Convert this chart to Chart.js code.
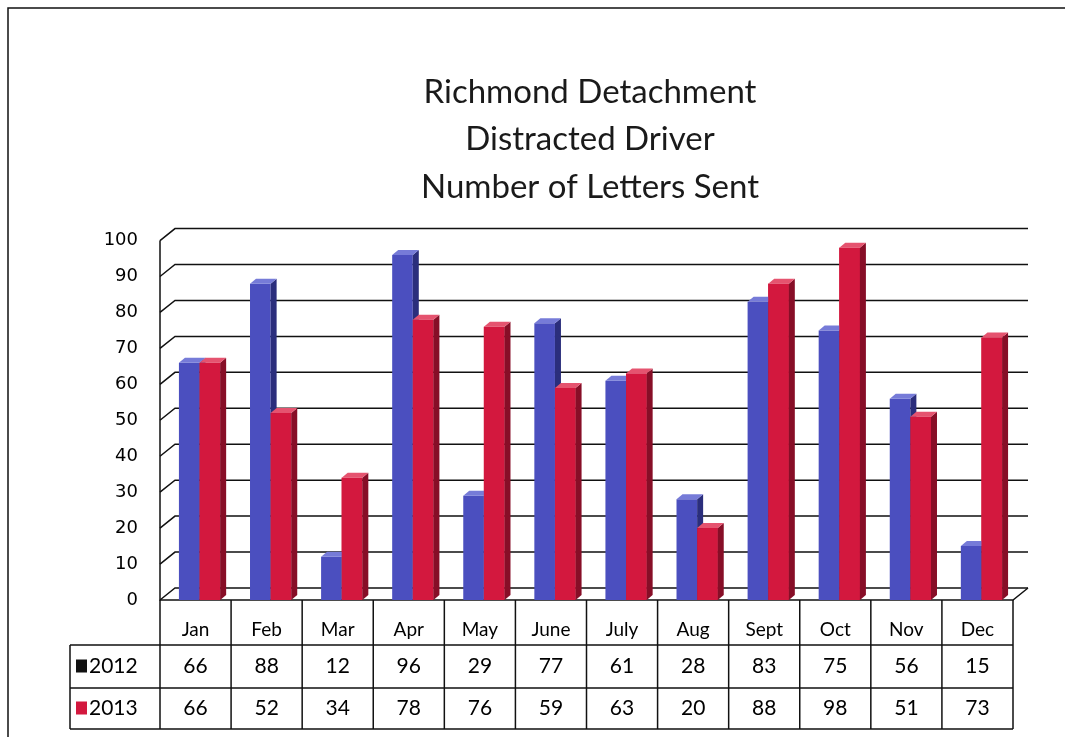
<!DOCTYPE html>
<html>
<head>
<meta charset="utf-8">
<script src="https://cdn.jsdelivr.net/npm/chart.js@4"></script>
<style>
  body { margin: 0; background: #fff; }
</style>
</head>
<body>
<canvas id="myChart" width="1065" height="737"></canvas>
<script>
const months = ['Jan', 'Feb', 'Mar', 'Apr', 'May', 'June', 'July', 'Aug', 'Sept', 'Oct', 'Nov', 'Dec'];
const letters2012 = [66, 88, 12, 96, 29, 77, 61, 28, 83, 75, 56, 15];
const letters2013 = [66, 52, 34, 78, 76, 59, 63, 20, 88, 98, 51, 73];
const seriesNames = ['2012', '2013'];
const titleLines = ['Richmond Detachment', 'Distracted Driver', 'Number of Letters Sent'];

// back wall offset for the fake 3d look
const DX = 15, DY = -12;
const BAR_D = 6, BAR_DV = 5;
const BAR_SHIFT = 4; // bars sit a little behind the front edge

const faces = [
    { front: '#4b4fbf', side: '#2b2e7c', top: '#767bd8' },
    { front: '#d3183e', side: '#870e27', top: '#e5536f' }
];

const fake3d = {
    id: 'fake3d',
    beforeDatasetsDraw(chart) {
        const { ctx, chartArea: a, scales: { y } } = chart;
        ctx.save();
        ctx.strokeStyle = '#111';
        ctx.lineWidth = 1.5;
        for (let v = 0; v <= 100; v += 10) {
            const py = y.getPixelForValue(v);
            ctx.beginPath();
            ctx.moveTo(a.left, py);
            ctx.lineTo(a.left + DX, py + DY);
            ctx.lineTo(a.right + DX, py + DY);
            ctx.stroke();
        }
        // front axis + floor edge
        ctx.beginPath();
        ctx.moveTo(a.left, a.top);
        ctx.lineTo(a.left, a.bottom);
        ctx.lineTo(a.right, a.bottom);
        ctx.lineTo(a.right + DX, a.bottom + DY);
        ctx.stroke();
        ctx.restore();
        // nudge the bars right before chart.js paints them
        ctx.save();
        ctx.translate(BAR_SHIFT, 0);
    },
    afterDatasetsDraw(chart) {
        const { ctx } = chart;
        [0, 1].forEach(di => {
            const meta = chart.getDatasetMeta(di);
            const f = faces[di];
            meta.data.forEach(bar => {
                const p = bar.getProps(['x', 'y', 'base', 'width'], true);
                const l = p.x - p.width / 2, r = p.x + p.width / 2;
                if (di === 1) {
                    ctx.fillStyle = f.front;
                    ctx.fillRect(l, p.y, p.width, p.base - p.y);
                }
                ctx.fillStyle = f.side;
                ctx.beginPath();
                ctx.moveTo(r, p.y);
                ctx.lineTo(r + BAR_D, p.y - BAR_DV);
                ctx.lineTo(r + BAR_D, p.base - BAR_DV);
                ctx.lineTo(r, p.base);
                ctx.closePath();
                ctx.fill();
                ctx.fillStyle = f.top;
                ctx.beginPath();
                ctx.moveTo(l, p.y);
                ctx.lineTo(l + BAR_D, p.y - BAR_DV);
                ctx.lineTo(r + BAR_D, p.y - BAR_DV);
                ctx.lineTo(r, p.y);
                ctx.closePath();
                ctx.fill();
            });
        });
        ctx.restore();
    },
    afterDraw(chart) {
        const { ctx, chartArea: a, scales: { x } } = chart;
        const colW = (a.right - a.left) / months.length;
        const row0 = a.bottom, row1 = a.bottom + 45, row2 = row1 + 43, row3 = row2 + 41;
        const labelLeft = 70;
        ctx.save();
        ctx.strokeStyle = '#111';
        ctx.lineWidth = 1.5;
        // outer frame
        ctx.beginPath();
        ctx.moveTo(8, 737);
        ctx.lineTo(8, 8);
        ctx.lineTo(1065, 8);
        ctx.stroke();
        // table grid
        ctx.beginPath();
        for (let i = 0; i <= months.length; i++) {
            const px = a.left + i * colW;
            ctx.moveTo(px, row0);
            ctx.lineTo(px, row3);
        }
        ctx.moveTo(labelLeft, row1);
        ctx.lineTo(labelLeft, row3);
        [row1, row2, row3].forEach(ry => {
            ctx.moveTo(labelLeft, ry);
            ctx.lineTo(a.right, ry);
        });
        ctx.stroke();

        ctx.font = '21px Lato';
        ctx.textBaseline = 'middle';
        ctx.fillStyle = '#000';
        [letters2012, letters2013].forEach((vals, r) => {
            const cy = (r === 0 ? (row1 + row2) : (row2 + row3)) / 2;
            ctx.textAlign = 'center';
            vals.forEach((v, i) => ctx.fillText(String(v), x.getPixelForValue(i), cy));
            ctx.fillStyle = r === 0 ? '#111' : faces[1].front;
            ctx.fillRect(labelLeft + 6, cy - 7, 11, 13);
            ctx.fillStyle = '#000';
            ctx.textAlign = 'left';
            ctx.fillText(seriesNames[r], labelLeft + 19, cy);
        });
        ctx.restore();
    }
};

const ctx = document.getElementById('myChart').getContext('2d');
const myChart = new Chart(ctx, {
    type: 'bar',
    data: {
        labels: months,
        datasets: [
            {
                label: seriesNames[0],
                data: letters2012,
                backgroundColor: faces[0].front,
                categoryPercentage: 0.58,
                barPercentage: 1.0
            },
            {
                label: seriesNames[1],
                data: letters2013,
                backgroundColor: faces[1].front,
                categoryPercentage: 0.58,
                barPercentage: 1.0
            }
        ]
    },
    options: {
        responsive: false,
        animation: false,
        layout: {
            // negative right padding keeps the title centred where the original sits
            padding: { left: 95, right: -20, top: 8, bottom: 92 }
        },
        scales: {
            x: {
                grid: { display: false, drawTicks: false },
                border: { display: false },
                ticks: {
                    color: '#000',
                    font: { family: 'Lato', size: 19 },
                    padding: 18,
                    maxRotation: 0
                },
                afterFit(scale) { scale.height = 45; }
            },
            y: {
                min: 0,
                max: 100,
                grid: { display: false, drawTicks: false },
                border: { display: false },
                ticks: {
                    stepSize: 10,
                    color: '#000',
                    font: { family: 'DejaVu Sans', size: 18 },
                    padding: 22
                },
                afterFit(scale) { scale.width = 65; }
            },
            y2: {
                position: 'right',
                min: 0,
                max: 100,
                grid: { display: false, drawTicks: false },
                border: { display: false },
                ticks: { display: false },
                afterFit(scale) { scale.width = 72; }
            }
        },
        plugins: {
            legend: { display: false },
            tooltip: { enabled: false },
            title: {
                display: true,
                text: titleLines,
                color: '#1a1a1a',
                font: { family: 'Lato', size: 33, weight: 'normal', lineHeight: 1.45 },
                padding: { top: 60, bottom: 29 }
            }
        }
    },
    plugins: [fake3d]
});
</script>
</body>
</html>
